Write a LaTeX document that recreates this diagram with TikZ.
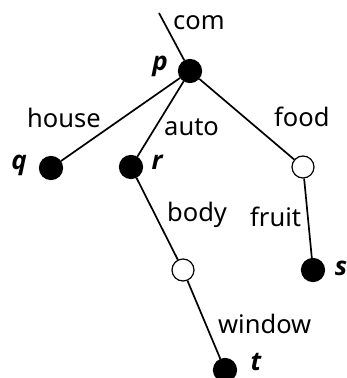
\documentclass[tikz,border=0pt]{standalone}
\usepackage{fontspec}
\setmainfont{Noto Sans}
\newfontfamily\tagfont{Open Sans}
\begin{document}
\begin{tikzpicture}[x=1pt,y=-1pt,
  every node/.style={font=\fontsize{25.5}{30}\selectfont},
  full/.style={circle,fill=black,draw=black,line width=1.2pt,minimum size=23pt,inner sep=0pt},
  hollow/.style={circle,fill=white,draw=black,line width=1.2pt,minimum size=22pt,inner sep=0pt},
  edge/.style={line width=1.7pt},
  tag/.style={font=\tagfont\fontsize{26}{30}\selectfont\bfseries\itshape,inner sep=0pt},
  lbl/.style={inner sep=0pt,anchor=base west}]
\useasboundingbox (0,0) rectangle (346,378);
\coordinate (top) at (159,13);
\node[full] (p) at (190,71) {};
\node[full] (q) at (51,168) {};
\node[full] (r) at (131,167) {};
\node[hollow] (f) at (303,167) {};
\node[hollow] (b) at (183,270) {};
\node[full] (s) at (313,270) {};
\node[full] (t) at (225,370) {};
\draw[edge] (top) -- (p);
\draw[edge] (p) -- (q);
\draw[edge] (p) -- (r);
\draw[edge] (p) -- (f);
\draw[edge] (r) -- (b);
\draw[edge] (b) -- (t);
\draw[edge] (f) -- (s);
\node[lbl] at (173,29) {com};
\node[lbl] at (27,127) {house};
\node[lbl] at (164,135) {auto};
\node[lbl] at (274,126) {food};
\node[lbl] at (167,221) {body};
\node[lbl] at (250,226) {fruit};
\node[lbl] at (218,333) {window};
\node[tag] at (160,66) {p};
\node[tag] at (19,165) {q};
\node[tag] at (157,162) {r};
\node[tag] at (341,268) {s};
\node[tag] at (256,362) {t};
\end{tikzpicture}
\end{document}
